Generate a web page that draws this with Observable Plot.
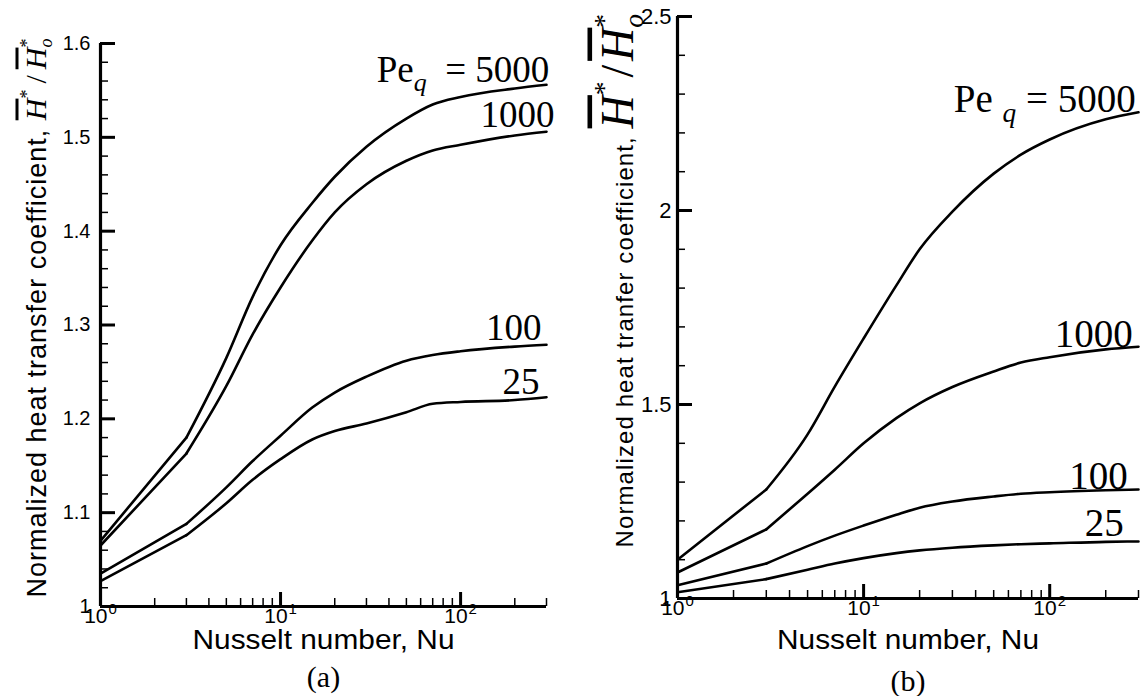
<!DOCTYPE html>
<html>
<head>
<meta charset="utf-8">
<script src="https://cdn.jsdelivr.net/npm/d3@7"></script>
<script src="https://cdn.jsdelivr.net/npm/@observablehq/plot@0.6"></script>
<style>
html,body{margin:0;padding:0;background:#fff;}
#wrap{position:relative;width:1140px;height:696px;overflow:hidden;background:#fff;}
#wrap svg{position:absolute;top:0;overflow:visible;}
</style>
</head>
<body>
<div id="wrap"></div>
<script>
const SANS = "'Liberation Sans', Arial, Helvetica, sans-serif";
const SERIF = "'Liberation Serif', 'Times New Roman', Times, serif";

// ---- data ----
const nusselt = [1, 3, 5, 7, 10, 15, 20, 30, 50, 70, 100, 200, 300];
const peSeries = [5000, 1000, 100, 25];

// panel (a)
const a_pe5000 = [1.070, 1.180, 1.265, 1.330, 1.385, 1.430, 1.458, 1.490, 1.520, 1.535, 1.543, 1.552, 1.556];
const a_pe1000 = [1.065, 1.163, 1.235, 1.290, 1.340, 1.390, 1.420, 1.450, 1.475, 1.486, 1.492, 1.502, 1.506];
const a_pe100  = [1.035, 1.088, 1.127, 1.155, 1.182, 1.212, 1.228, 1.245, 1.262, 1.268, 1.272, 1.277, 1.279];
const a_pe25   = [1.027, 1.076, 1.110, 1.135, 1.157, 1.178, 1.187, 1.195, 1.207, 1.216, 1.218, 1.220, 1.223];

// panel (b)
const b_pe5000 = [1.100, 1.281, 1.423, 1.546, 1.670, 1.807, 1.900, 1.997, 2.095, 2.144, 2.183, 2.235, 2.253];
const b_pe1000 = [1.067, 1.178, 1.270, 1.332, 1.400, 1.465, 1.503, 1.545, 1.585, 1.608, 1.622, 1.642, 1.649];
const b_pe100  = [1.034, 1.090, 1.135, 1.162, 1.188, 1.216, 1.234, 1.250, 1.263, 1.270, 1.274, 1.279, 1.281];
const b_pe25   = [1.016, 1.050, 1.074, 1.090, 1.104, 1.117, 1.124, 1.131, 1.137, 1.140, 1.142, 1.146, 1.147];

// curve labels (text, anchor Nu, anchor value)
const a_labelText = ["Pe|q|\u2002= 5000", "1000", "100", "25"];
const a_labelNu   = [311, 332, 281, 274];
const a_labelH    = [1.5585, 1.5105, 1.2835, 1.226];
const b_labelText = ["Pe |q| = 5000", "1000", "100", "25"];
const b_labelNu   = [290, 279, 263, 250];
const b_labelH    = [2.2526, 1.647, 1.281, 1.162];

// ticks
const xMajorTicks = [1, 10, 100];
const xMinorTicks = [2, 3, 4, 5, 6, 7, 8, 9, 20, 30, 40, 50, 60, 70, 80, 90, 200, 300];
const a_yMajor = [1, 1.1, 1.2, 1.3, 1.4, 1.5, 1.6];
const a_yMinor = [1.02,1.04,1.06,1.08,1.12,1.14,1.16,1.18,1.22,1.24,1.26,1.28,1.32,1.34,1.36,1.38,1.42,1.44,1.46,1.48,1.52,1.54,1.56,1.58];
const b_yMajor = [1, 1.5, 2, 2.5];
const b_yMinor = [1.1, 1.2, 1.3, 1.4, 1.6, 1.7, 1.8, 1.9, 2.1, 2.2, 2.3, 2.4];

// titles
const xTitle = "Nusselt number, Nu";
const a_yWords = "Normalized heat transfer coefficient, ";
const b_yWords = "Normalized heat tranfer coefficient, ";

function panel(cfg) {
  const W = 570, H = 696;
  const rows = [];
  cfg.series.forEach((vals, i) => vals.forEach((v, j) => rows.push({nu: nusselt[j], h: v, pe: peSeries[i]})));
  const labels = cfg.labelText.map((t, i) => ({t, nu: cfg.labelNu[i], h: cfg.labelH[i]}));
  const fw = W - cfg.ml - cfg.mr, fh = H - cfg.mt - cfg.mb;
  const svg = Plot.plot({
    width: W, height: H,
    marginLeft: cfg.ml, marginRight: cfg.mr, marginTop: cfg.mt, marginBottom: cfg.mb,
    x: {type: "log", domain: [1, 300]},
    y: {domain: cfg.yDomain},
    style: {fontFamily: SANS, fontSize: "19px", color: "#000", background: "transparent", overflow: "visible"},
    marks: [
      Plot.line(rows.filter(d => d.nu <= 3), {x: "nu", y: "h", z: "pe", stroke: "#000", strokeWidth: 2.6}),
      Plot.line(rows.filter(d => d.nu >= 3), {x: "nu", y: "h", z: "pe", stroke: "#000", strokeWidth: 2.6, curve: "monotone-x"}),
      Plot.tickY(cfg.yMinor, {y: d => d, insetRight: fw - 8, stroke: "#000", strokeWidth: 1.5}),
      Plot.tickY(cfg.yMajor, {y: d => d, insetRight: fw - 15, stroke: "#000", strokeWidth: 3}),
      Plot.tickX(xMinorTicks, {x: d => d, insetTop: fh - 8, stroke: "#000", strokeWidth: 1.5}),
      Plot.tickX(xMajorTicks, {x: d => d, insetTop: fh - 14, stroke: "#000", strokeWidth: 3}),
      Plot.ruleX([1], {stroke: "#000", strokeWidth: 3.2}),
      Plot.ruleY([cfg.yDomain[0]], {stroke: "#000", strokeWidth: 3.2}),
      Plot.axisY(cfg.yMajor, {tickSize: 0, tickPadding: cfg.yPad, tickFormat: d => String(d), fontSize: cfg.yTickSize, label: null}),
      Plot.axisX(xMajorTicks, {tickSize: 0, tickPadding: 2, tickFormat: d => "10|" + Math.round(Math.log10(d)), fontSize: 21, label: null}),
      Plot.text(labels, {x: "nu", y: "h", text: "t", textAnchor: "end", lineAnchor: "bottom", fontFamily: SERIF, fontSize: cfg.labelSize}),
      Plot.text([xTitle], {text: d => d, frameAnchor: "bottom", lineAnchor: "bottom", dy: cfg.xTitleDy, fontSize: 27, fontFamily: SANS}),
      Plot.text([cfg.tag], {text: d => d, frameAnchor: "bottom", lineAnchor: "bottom", dy: cfg.tagDy, fontSize: 30, fontFamily: SERIF}),
      Plot.text([cfg.yWords], {text: d => d, frameAnchor: "bottom-left", textAnchor: "start", lineAnchor: "bottom", rotate: -90, dx: cfg.yTitleDx, dy: cfg.yTitleDy, fontSize: cfg.yWordSize, fontFamily: SANS})
    ]
  });
  d3.select(svg).selectAll("text").each(function() {
    const t = d3.select(this);
    const str = this.textContent;
    if (str.startsWith("10|")) {
      const [base, ex] = str.split("|");
      t.text(null);
      t.append("tspan").text(base);
      t.append("tspan").attr("font-size", 15).attr("dy", -9).attr("dx", 1).text(ex);
    } else if (str.startsWith("Pe")) {
      const [a, b, c] = str.split("|");
      const fs = cfg.labelSize;
      t.text(null);
      t.append("tspan").text(a);
      t.append("tspan").attr("font-style", "italic").attr("font-size", fs * 0.7).attr("dy", fs * 0.24).text(b);
      t.append("tspan").attr("dy", -fs * 0.24).style("white-space", "pre").text(c);
    } else if (str === xTitle) {
      t.attr("textLength", cfg.xTitleLen).attr("lengthAdjust", "spacingAndGlyphs");
    } else if (str.startsWith("Normalized")) {
      const ms = cfg.mathSize, ss = ms * 0.6, up = ms * 0.42, dn = ms * 0.22;
      t.text(null);
      t.append("tspan").style("letter-spacing", cfg.yWordsLs + "px").style("white-space", "pre").text(cfg.yWords);
      const m = () => t.append("tspan").attr("font-family", SERIF).style("letter-spacing", "0px");
      m().attr("font-style", "italic").attr("font-size", ms).style("text-decoration", "overline").text("H");
      m().attr("font-size", ss).attr("dy", -up).text("*");
      m().attr("font-size", ms).attr("dy", up).text(cfg.slash);
      m().attr("font-style", "italic").attr("font-size", ms).style("text-decoration", "overline").text("H");
      m().attr("font-size", ss).attr("dy", -up).text("*");
      m().attr("font-style", "italic").attr("font-size", ss).attr("dx", -ss * 0.5).attr("dy", up + dn).text("o");
    }
  });
  svg.style.left = cfg.left + "px";
  return svg;
}

const wrap = document.getElementById("wrap");
wrap.appendChild(panel({
  left: 0, ml: 100, mr: 24, mt: 43, mb: 90,
  yDomain: [1, 1.6], yMajor: a_yMajor, yMinor: a_yMinor, yPad: 10, yTickSize: 20,
  series: [a_pe5000, a_pe1000, a_pe100, a_pe25],
  labelText: a_labelText, labelNu: a_labelNu, labelH: a_labelH, labelSize: 37,
  xTitleDy: 42, xTitleLen: 262, tag: "(a)", tagDy: 80,
  yWords: a_yWords, yWordSize: 27, yWordsLs: 1, mathSize: 30, slash: "\u2009/\u2009", yTitleDx: -55, yTitleDy: -9
}));
wrap.appendChild(panel({
  left: 570, ml: 107, mr: 2, mt: 16, mb: 98,
  yDomain: [1, 2.5], yMajor: b_yMajor, yMinor: b_yMinor, yPad: 6, yTickSize: 22,
  series: [b_pe5000, b_pe1000, b_pe100, b_pe25],
  labelText: b_labelText, labelNu: b_labelNu, labelH: b_labelH, labelSize: 39,
  xTitleDy: 50, xTitleLen: 262, tag: "(b)", tagDy: 92,
  yWords: b_yWords, yWordSize: 24, yWordsLs: 1.1, mathSize: 46, slash: "\u200A/\u200A", yTitleDx: -45, yTitleDy: -51
}));
</script>
</body>
</html>
